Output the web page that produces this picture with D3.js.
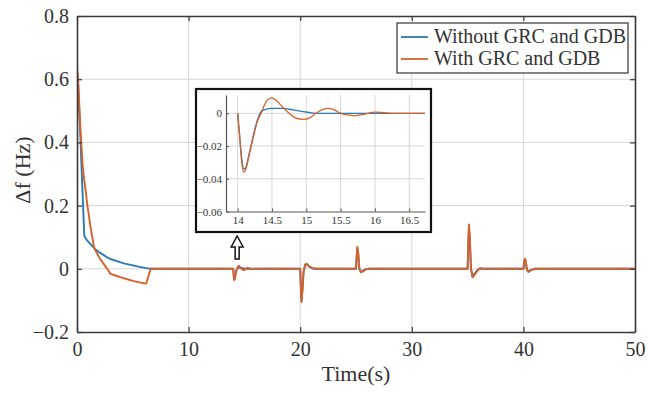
<!DOCTYPE html>
<html>
<head>
<meta charset="utf-8">
<script src="https://cdn.jsdelivr.net/npm/d3@7"></script>
<style>
  html, body { margin: 0; padding: 0; background: #fff; }
  svg { display: block; }
  text { font-family: "Liberation Serif", "Times New Roman", serif; fill: #333; }
</style>
</head>
<body>
<svg id="chart" width="648" height="393"></svg>
<script>
// ---------------- data ----------------
const seriesNames = ["Without GRC and GDB", "With GRC and GDB"];
const seriesColors = ["#2a7ab8", "#d5622a"];

const time = [
  0, 0.01, 0.1, 0.3, 0.45, 0.5, 0.65, 0.8, 0.93, 1.0, 1.2, 1.3, 1.53, 1.6, 2.0, 2.5, 2.7, 3.0, 3.5, 4.2, 5.0, 5.6, 6.2, 6.6, 7.0,
  14.0, 14.03, 14.06, 14.09, 14.12, 14.16, 14.22, 14.28, 14.34, 14.42, 14.49, 14.56, 14.65, 14.75, 14.85, 14.96, 15.05, 15.14,
  15.22, 15.31, 15.4, 15.5, 15.6, 15.7, 15.8, 15.9, 16.0, 16.1, 16.25, 16.5, 16.8,
  20.0, 20.05, 20.12, 20.2, 20.3, 20.45, 20.6, 20.8, 21.1, 21.4,
  25.0, 25.06, 25.12, 25.2, 25.3, 25.45, 25.65, 25.9, 26.2,
  35.0, 35.06, 35.12, 35.2, 35.3, 35.45, 35.65, 35.9, 36.1, 36.4,
  40.0, 40.08, 40.15, 40.22, 40.32, 40.45, 40.65, 41.0,
  50.0
];

const withoutGRC = [
  0, 0.62, 0.58, 0.42, 0.28, 0.24, 0.105, 0.095, 0.089, 0.086, 0.079, 0.075, 0.066, 0.063, 0.052, 0.041, 0.036, 0.031, 0.025, 0.017, 0.011, 0.006, 0.002, 0, 0,
  0, -0.014, -0.028, -0.034, -0.033, -0.026, -0.015, -0.005, 0.001, 0.0025, 0.003, 0.003, 0.003, 0.0025, 0.0018, 0.001, 0.0005, 0,
  0, 0, 0, 0, 0, 0, 0, 0, 0, 0, 0, 0, 0,
  0, -0.048, -0.1, -0.066, -0.01, 0.012, 0.014, 0.007, 0.001, 0,
  0, 0.035, 0.064, 0.046, 0, -0.01, -0.005, -0.001, 0,
  0, 0.075, 0.13, 0.094, 0, -0.026, -0.014, -0.003, 0.001, 0,
  0, 0.022, 0.03, 0.018, -0.003, -0.009, -0.004, 0,
  0
];

const withGRC = [
  0, 0.63, 0.6, 0.45, 0.36, 0.33, 0.28, 0.24, 0.2, 0.185, 0.135, 0.115, 0.068, 0.062, 0.035, 0.01, 0.0, -0.016, -0.022, -0.03, -0.038, -0.043, -0.047, 0, 0,
  0, -0.015, -0.03, -0.036, -0.034, -0.027, -0.016, -0.006, 0, 0.0075, 0.0095, 0.008, 0.004, 0, -0.003, -0.0037, -0.0028, 0,
  0.002, 0.003, 0.0022, 0, -0.001, -0.0015, -0.001, 0, 0.0007, 0.0005, 0, 0, 0,
  0, -0.05, -0.105, -0.07, -0.01, 0.014, 0.016, 0.008, 0.002, 0,
  0, 0.04, 0.07, 0.05, 0, -0.011, -0.008, -0.002, 0,
  0, 0.08, 0.14, 0.1, 0, -0.027, -0.018, -0.005, 0.002, 0,
  0, 0.025, 0.032, 0.02, -0.003, -0.01, -0.005, 0,
  0
];

const xTicks = [0, 10, 20, 30, 40, 50];
const yTicks = [-0.2, 0, 0.2, 0.4, 0.6, 0.8];
const insetXTicks = [14, 14.5, 15, 15.5, 16, 16.5];
const insetYTicks = [-0.06, -0.04, -0.02, 0];
const xDomain = [0, 50];
const yDomain = [-0.2, 0.8];
const insetXDomain = [13.83, 16.73];
const insetYDomain = [-0.06, 0.0112];
const arrowTime = 14.35;

// ---------------- layout ----------------
const svg = d3.select("#chart");
const M = { left: 77, right: 635, top: 16, bottom: 332 };
const x = d3.scaleLinear(xDomain, [M.left, M.right]);
const y = d3.scaleLinear(yDomain, [M.bottom, M.top]);

const gridColor = "#d6d6d6";
const axisColor = "#3a3a3a";

// grid
const g = svg.append("g");
g.selectAll(".vg").data(xTicks.filter(t => t > xDomain[0] && t < xDomain[1])).join("line")
  .attr("x1", d => x(d)).attr("x2", d => x(d)).attr("y1", M.top).attr("y2", M.bottom)
  .attr("stroke", gridColor).attr("stroke-width", 1);
g.selectAll(".hg").data(yTicks.filter(t => t > yDomain[0] && t < yDomain[1])).join("line")
  .attr("y1", d => y(d)).attr("y2", d => y(d)).attr("x1", M.left).attr("x2", M.right)
  .attr("stroke", gridColor).attr("stroke-width", 1);

// clip
svg.append("clipPath").attr("id", "mainClip").append("rect")
  .attr("x", M.left).attr("y", M.top).attr("width", M.right - M.left).attr("height", M.bottom - M.top);

const series = [withoutGRC, withGRC];
const mainLine = d3.line().x((d, i) => x(time[i])).y(d => y(d));
svg.append("g").attr("clip-path", "url(#mainClip)")
  .selectAll("path").data(series).join("path")
  .attr("d", d => mainLine(d))
  .attr("fill", "none")
  .attr("stroke", (d, i) => seriesColors[i])
  .attr("stroke-width", 1.9)
  .attr("stroke-linejoin", "round");

// axes (box with inward ticks)
const axB = d3.axisBottom(x).tickValues(xTicks).tickSize(-5).tickSizeOuter(0).tickPadding(10).tickFormat(d3.format("d"));
const axT = d3.axisTop(x).tickValues(xTicks).tickSize(-5).tickSizeOuter(0).tickFormat("");
const axL = d3.axisLeft(y).tickValues(yTicks).tickSize(-5).tickSizeOuter(0).tickPadding(8).tickFormat(d => d === 0 ? "0" : d3.format(".1f")(d));
const axR = d3.axisRight(y).tickValues(yTicks).tickSize(-5).tickSizeOuter(0).tickFormat("");

function styleAxis(sel, fs) {
  sel.selectAll("path.domain").attr("stroke", axisColor).attr("stroke-width", 1.6);
  sel.selectAll(".tick line").attr("stroke", axisColor).attr("stroke-width", 1.2);
  sel.selectAll(".tick text").attr("font-family", "Liberation Serif, serif").attr("font-size", fs).attr("fill", "#333");
}
styleAxis(svg.append("g").attr("transform", `translate(0,${M.bottom})`).call(axB), 20);
styleAxis(svg.append("g").attr("transform", `translate(0,${M.top})`).call(axT), 20);
styleAxis(svg.append("g").attr("transform", `translate(${M.left},0)`).call(axL), 20);
styleAxis(svg.append("g").attr("transform", `translate(${M.right},0)`).call(axR), 20);

// axis labels
svg.append("text").attr("x", (M.left + M.right) / 2).attr("y", 381)
  .attr("text-anchor", "middle").attr("font-size", 22).text("Time(s)");
svg.append("text").attr("transform", `translate(30,${(M.top + M.bottom) / 2 - 4}) rotate(-90)`)
  .attr("text-anchor", "middle").attr("font-size", 22).text("Δf (Hz)");

// legend
const lg = svg.append("g");
lg.append("rect").attr("x", 397).attr("y", 23).attr("width", 231).attr("height", 50)
  .attr("fill", "#fff").attr("stroke", "#333").attr("stroke-width", 1.2);
seriesNames.forEach((name, i) => {
  const yy = 37 + i * 22;
  lg.append("line").attr("x1", 401).attr("x2", 428).attr("y1", yy).attr("y2", yy)
    .attr("stroke", seriesColors[i]).attr("stroke-width", 1.8);
  lg.append("text").attr("x", 434).attr("y", yy + 6).attr("font-size", 20).text(name);
});

// ---------------- inset ----------------
const I = { left: 226, right: 425, top: 95, bottom: 211.5 };
const ix = d3.scaleLinear(insetXDomain, [I.left, I.right]);
const iy = d3.scaleLinear(insetYDomain, [I.bottom, I.top]);

svg.append("rect").attr("x", 196).attr("y", 89).attr("width", 235).attr("height", 143)
  .attr("fill", "#fff").attr("stroke", "#111").attr("stroke-width", 2.2);

const ig = svg.append("g");
ig.selectAll(".ivg").data(insetXTicks).join("line")
  .attr("x1", d => ix(d)).attr("x2", d => ix(d)).attr("y1", I.top).attr("y2", I.bottom)
  .attr("stroke", gridColor).attr("stroke-width", 1);
ig.selectAll(".ihg").data(insetYTicks.filter(t => t > insetYDomain[0])).join("line")
  .attr("y1", d => iy(d)).attr("y2", d => iy(d)).attr("x1", I.left).attr("x2", I.right)
  .attr("stroke", gridColor).attr("stroke-width", 1);

svg.append("clipPath").attr("id", "insetClip").append("rect")
  .attr("x", I.left).attr("y", I.top - 2).attr("width", I.right - I.left).attr("height", I.bottom - I.top + 2);

const insetIdx = time.map((t, i) => i).filter(i => time[i] >= 13.5 && time[i] <= 17);
const ic = svg.append("g").attr("clip-path", "url(#insetClip)");
series.forEach((s, k) => {
  const insetLine = d3.line().curve(d3.curveMonotoneX).x(i => ix(time[i])).y(i => iy(s[i]));
  ic.append("path").attr("d", insetLine(insetIdx))
    .attr("fill", "none").attr("stroke", seriesColors[k]).attr("stroke-width", 1.3);
});

const iaxB = d3.axisBottom(ix).tickValues(insetXTicks).tickSize(-3).tickSizeOuter(0).tickPadding(5).tickFormat(d => String(d));
const iaxL = d3.axisLeft(iy).tickValues(insetYTicks).tickSize(-3).tickSizeOuter(0).tickPadding(4).tickFormat(d => d === 0 ? "0" : d3.format(".2f")(d));
function styleInset(sel) {
  sel.selectAll("path.domain").attr("stroke", "#555").attr("stroke-width", 1.2);
  sel.selectAll(".tick line").attr("stroke", "#555").attr("stroke-width", 1);
  sel.selectAll(".tick text").attr("font-family", "Liberation Serif, serif").attr("font-size", 11).attr("fill", "#444");
}
styleInset(svg.append("g").attr("transform", `translate(0,${I.bottom})`).call(iaxB));
styleInset(svg.append("g").attr("transform", `translate(${I.left},0)`).call(iaxL));

// arrow pointing at inset
const ax0 = x(arrowTime);
const arrowPath = d3.path();
arrowPath.moveTo(ax0, 236);
arrowPath.lineTo(ax0 + 6, 247);
arrowPath.lineTo(ax0 + 2, 247);
arrowPath.lineTo(ax0 + 2, 259);
arrowPath.lineTo(ax0 - 2, 259);
arrowPath.lineTo(ax0 - 2, 247);
arrowPath.lineTo(ax0 - 6, 247);
arrowPath.closePath();
svg.append("path").attr("d", arrowPath.toString())
  .attr("fill", "#fff").attr("stroke", "#111").attr("stroke-width", 1.5).attr("stroke-linejoin", "miter");
</script>
</body>
</html>
